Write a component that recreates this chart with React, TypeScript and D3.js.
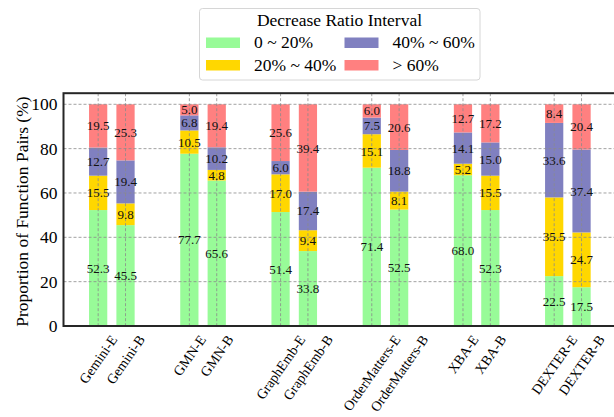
import React, { useEffect, useRef } from "react";
import * as d3 from "d3";

const categories = [
  "Gemini-E", "Gemini-B", "GMN-E", "GMN-B", "GraphEmb-E", "GraphEmb-B",
  "OrderMatters-E", "OrderMatters-B", "XBA-E", "XBA-B", "DEXTER-E", "DEXTER-B",
];
const range0to20 = [52.3, 45.5, 77.7, 65.6, 51.4, 33.8, 71.4, 52.5, 68.0, 52.3, 22.5, 17.5];
const range20to40 = [15.5, 9.8, 10.5, 4.8, 17.0, 9.4, 15.1, 8.1, 5.2, 15.5, 35.5, 24.7];
const range40to60 = [12.7, 19.4, 6.8, 10.2, 6.0, 17.4, 7.5, 18.8, 14.1, 15.0, 33.6, 37.4];
const rangeOver60 = [19.5, 25.3, 5.0, 19.4, 25.6, 39.4, 6.0, 20.6, 12.7, 17.2, 8.4, 20.4];
const seriesNames = ["0 ~ 20%", "20% ~ 40%", "40% ~ 60%", "> 60%"];
const seriesColors = ["#98FB98", "#FFD700", "#8080C0", "#FF8080"];
const yTicks = [0, 20, 40, 60, 80, 100];
const legendTitle = "Decrease Ratio Interval";
const yLabel = "Proportion of Function Pairs (%)";

const FONT = "Liberation Serif, DejaVu Serif, serif";

export default function App() {
  const ref = useRef<SVGSVGElement>(null);

  useEffect(() => {
    document.body.style.margin = "0";
    document.body.style.overflow = "hidden";
    const svg = d3.select(ref.current);
    svg.selectAll("*").remove();
    const series = [range0to20, range20to40, range40to60, rangeOver60];

    const left = 63.5, right = 650, top = 93.2, bottom = 326;
    const x = d3.scaleLinear().domain([-0.53, 5.53]).range([left, 616.2]);
    const y = d3.scaleLinear().domain([0, 105]).range([bottom, top]);
    const barW = x(0.2) - x(0);
    const pos = (i: number) => Math.floor(i / 2) + (i % 2 === 0 ? -0.15 : 0.15);

    // bars
    const gBars = svg.append("g");
    categories.forEach((c, i) => {
      let base = 0;
      series.forEach((s, k) => {
        const v = s[i];
        gBars.append("rect")
          .attr("x", x(pos(i)) - barW / 2)
          .attr("y", y(base + v))
          .attr("width", barW)
          .attr("height", y(base) - y(base + v))
          .attr("fill", seriesColors[k]);
        base += v;
      });
    });

    // grid
    const gGrid = svg.append("g")
      .attr("stroke", "#8a8a8a")
      .attr("stroke-width", 0.8)
      .attr("stroke-dasharray", "3,2");
    yTicks.forEach((t) => {
      gGrid.append("line").attr("x1", left).attr("x2", right)
        .attr("y1", y(t)).attr("y2", y(t));
    });
    categories.forEach((c, i) => {
      gGrid.append("line").attr("x1", x(pos(i))).attr("x2", x(pos(i)))
        .attr("y1", top).attr("y2", bottom);
    });

    // value labels
    const gLab = svg.append("g").style("font-family", FONT).attr("font-size", 13)
      .attr("fill", "#111").attr("text-anchor", "middle");
    categories.forEach((c, i) => {
      let base = 0;
      series.forEach((s) => {
        const v = s[i];
        gLab.append("text")
          .attr("x", x(pos(i)))
          .attr("y", y(base + v / 2))
          .attr("dy", "0.35em")
          .text(v.toFixed(1));
        base += v;
      });
    });

    // frame
    svg.append("rect")
      .attr("x", left).attr("y", top)
      .attr("width", right - left).attr("height", bottom - top)
      .attr("fill", "none").attr("stroke", "#262626").attr("stroke-width", 2);

    // y ticks
    const gY = svg.append("g").style("font-family", FONT).attr("font-size", 17.5)
      .attr("fill", "#000").attr("text-anchor", "end");
    yTicks.forEach((t) => {
      gY.append("text").attr("x", left - 6).attr("y", y(t)).attr("dy", "0.35em").text(t);
    });

    // y label
    svg.append("text")
      .style("font-family", FONT).attr("font-size", 17.5).attr("text-anchor", "middle")
      .attr("transform", `translate(22,${(top + bottom) / 2 + 2}) rotate(-90)`)
      .attr("dy", "0.35em")
      .text(yLabel);

    // x labels
    const angle = 55;
    const rad = (angle * Math.PI) / 180;
    const fs = 14;
    const gX = svg.append("g").style("font-family", FONT).attr("font-size", fs)
      .attr("text-anchor", "middle");
    categories.forEach((c, i) => {
      const t = gX.append("text").text(c).attr("dy", "0.35em");
      const L = (t.node() as SVGTextElement).getComputedTextLength();
      const h = fs * 0.9;
      const bh = L * Math.sin(rad) + h * Math.cos(rad);
      const yc = bottom + 7 + bh / 2;
      t.attr("transform", `translate(${x(pos(i))},${yc}) rotate(-${angle})`);
    });

    // legend
    const lg = svg.append("g").style("font-family", FONT);
    lg.append("rect").attr("x", 199.5).attr("y", 8.5).attr("width", 280.5).attr("height", 71.5)
      .attr("rx", 3).attr("fill", "#fff").attr("stroke", "#d6d6d6").attr("stroke-width", 1);
    lg.append("text").attr("x", 339.5).attr("y", 26).attr("text-anchor", "middle")
      .attr("font-size", 17.5).text(legendTitle);
    const colX = [206, 344.5];
    const rowY = [37.5, 60];
    seriesNames.forEach((n, k) => {
      const col = k < 2 ? 0 : 1;
      const row = k % 2;
      lg.append("rect").attr("x", colX[col]).attr("y", rowY[row])
        .attr("width", 34).attr("height", 10.5).attr("fill", seriesColors[k]);
      lg.append("text").attr("x", colX[col] + 48).attr("y", rowY[row] + 10.5)
        .attr("font-size", 17.5).text(n);
    });
  }, []);

  return (
    <svg
      ref={ref}
      width={614}
      height={417}
      style={{ position: "absolute", left: 0, top: 0, overflow: "hidden", background: "#fff", fontFamily: FONT }}
    />
  );
}
